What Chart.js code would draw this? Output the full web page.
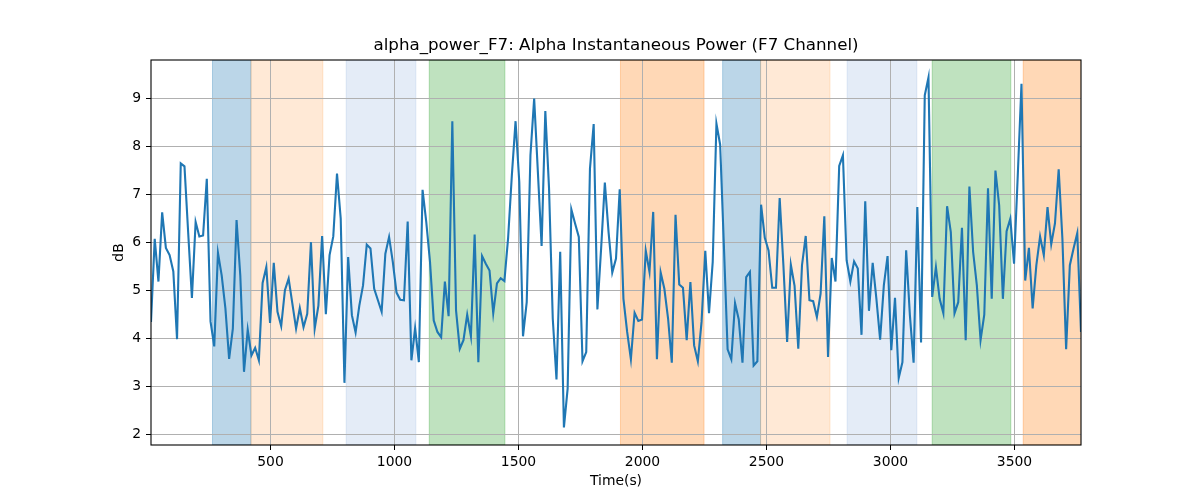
<!DOCTYPE html>
<html>
<head>
<meta charset="utf-8">
<script src="https://cdn.jsdelivr.net/npm/chart.js@4.4.1/dist/chart.umd.min.js"></script>
<style>
  html, body { margin: 0; padding: 0; background: #fff; }
  #wrap { width: 1200px; height: 500px; }
</style>
</head>
<body>
<div id="wrap"><canvas id="powerChart" width="1200" height="500"></canvas></div>
<script>
// Sampling grid (seconds)
const timeStart = 18;
const timeStep = 15;

// Alpha power in dB, one value per sample
const dbValues = [
  4.35, 6.08, 5.19, 6.63, 5.89, 5.74, 5.40, 3.99, 7.65, 7.59, 6.20, 4.85, 6.43, 6.13, 6.15, 7.33, 4.36, 3.84, 5.79, 5.32, 4.63,
  3.58, 4.21, 6.47, 5.32, 3.31, 4.19, 3.65, 3.81, 3.55, 5.16, 5.49, 4.33, 5.58, 4.56, 4.26, 5.01, 5.25, 4.73, 4.21, 4.64, 4.24,
  4.52, 6.01, 4.21, 4.69, 6.14, 4.51, 5.74, 6.13, 7.44, 6.50, 3.08, 5.70, 4.49, 4.13, 4.69, 5.11, 5.96, 5.88, 5.04, 4.80, 4.56,
  5.77, 6.12, 5.60, 4.96, 4.81, 4.80, 6.44, 3.55, 4.22, 3.51, 7.10, 6.43, 5.60, 4.38, 4.14, 4.03, 5.19, 4.47, 8.53, 4.59, 3.79,
  3.97, 4.50, 4.05, 6.17, 3.51, 5.72, 5.56, 5.42, 4.53, 5.15, 5.26, 5.20, 6.10, 7.40, 8.53, 7.26, 4.05, 4.76, 7.82, 9.00, 7.47,
  5.93, 8.74, 7.13, 4.42, 3.15, 5.81, 2.15, 2.96, 6.69, 6.40, 6.12, 3.53, 3.72, 7.54, 8.47, 4.61, 5.88, 7.25, 6.22, 5.38, 5.67,
  7.11, 4.83, 4.14, 3.57, 4.54, 4.37, 4.40, 5.83, 5.39, 6.64, 3.57, 5.38, 5.04, 4.42, 3.50, 6.58, 5.13, 5.06, 3.97, 5.18, 3.86,
  3.53, 4.35, 5.83, 4.53, 5.60, 8.48, 8.04, 5.94, 3.78, 3.57, 4.74, 4.40, 3.50, 5.28, 5.39, 3.44, 3.53, 6.79, 6.10, 5.84,
  5.06, 5.06, 6.93, 5.53, 3.93, 5.54, 5.10, 3.79, 5.53, 6.14, 4.80, 4.78, 4.45, 4.94, 6.55, 3.62, 5.68, 5.19, 7.60, 7.82, 5.63,
  5.19, 5.61, 5.46, 4.08, 6.86, 4.58, 5.58, 4.83, 3.98, 5.11, 5.72, 3.76, 4.85, 3.18, 3.51, 5.84, 4.49, 3.50, 6.74, 3.92, 9.07,
  9.44, 4.87, 5.49, 4.83, 4.53, 6.76, 6.22, 4.53, 4.76, 6.31, 3.97, 7.17, 5.81, 5.11, 3.97, 4.50, 7.13, 4.83, 7.50, 6.78, 4.83,
  6.24, 6.50, 5.56, 7.40, 9.31, 5.21, 5.89, 4.63, 5.53, 6.13, 5.74, 6.74, 5.97, 6.40, 7.53, 6.08, 3.78, 5.53, 5.88, 6.20, 4.14
];

// Shaded task segments (seconds)
const spanStarts = [266, 421, 805, 1140, 1911, 2323, 2476, 2825, 3168, 3535];
const spanEnds   = [421, 711, 1086, 1445, 2248, 2476, 2756, 3106, 3485, 3800];

const xTicks = [500, 1000, 1500, 2000, 2500, 3000, 3500];
const yTicks = [2, 3, 4, 5, 6, 7, 8, 9];

const titleText = 'alpha_power_F7: Alpha Instantaneous Power (F7 Channel)';
const xLabel = 'Time(s)';
const yLabel = 'dB';

// styles
const spanFills = [
  'rgba(31,119,180,0.3)', 'rgba(255,127,14,0.17)', 'rgba(130,170,220,0.22)', 'rgba(44,160,44,0.3)', 'rgba(255,127,14,0.3)',
  'rgba(31,119,180,0.3)', 'rgba(255,127,14,0.17)', 'rgba(130,170,220,0.22)', 'rgba(44,160,44,0.3)', 'rgba(255,127,14,0.3)'
];
const FONT = "'DejaVu Sans', sans-serif";

const points = dbValues.map((v, i) => ({ x: timeStart + i * timeStep, y: v }));
const xMin = points[0].x;
const xMax = points[points.length - 1].x;
const yMin = Math.min(...dbValues);
const yMax = Math.max(...dbValues);
const yPad = (yMax - yMin) * 0.05;

// axvspan-like bands, under the grid
const spansPlugin = {
  id: 'spans',
  beforeDraw(chart) {
    const { ctx, chartArea: a, scales: { x } } = chart;
    ctx.save();
    ctx.beginPath();
    ctx.rect(a.left, a.top, a.right - a.left, a.bottom - a.top);
    ctx.clip();
    spanStarts.forEach((s, i) => {
      const x0 = x.getPixelForValue(s);
      const x1 = x.getPixelForValue(spanEnds[i]);
      ctx.fillStyle = spanFills[i];
      ctx.fillRect(x0, a.top, x1 - x0, a.bottom - a.top);
      ctx.strokeStyle = spanFills[i];
      ctx.lineWidth = 1;
      ctx.strokeRect(x0, a.top, x1 - x0, a.bottom - a.top);
    });
    ctx.restore();
  }
};

// frame + title + axis labels
const framePlugin = {
  id: 'frame',
  afterDraw(chart) {
    const { ctx, chartArea: a } = chart;
    ctx.save();
    ctx.strokeStyle = '#000';
    ctx.lineWidth = 1.1;
    ctx.strokeRect(a.left, a.top, a.right - a.left, a.bottom - a.top);

    ctx.fillStyle = '#000';
    ctx.textAlign = 'center';
    ctx.textBaseline = 'middle';
    const cx = (a.left + a.right) / 2;
    ctx.font = `16.7px ${FONT}`;
    ctx.fillText(titleText, cx, 46);
    ctx.font = `13.9px ${FONT}`;
    ctx.fillText(xLabel, cx, 481);
    ctx.translate(119, (a.top + a.bottom) / 2);
    ctx.rotate(-Math.PI / 2);
    ctx.fillText(yLabel, 0, 0);
    ctx.restore();
  }
};

const ctx = document.getElementById('powerChart').getContext('2d');
new Chart(ctx, {
  type: 'line',
  data: {
    datasets: [{
      label: 'alpha_power_F7',
      data: points,
      borderColor: '#1f77b4',
      borderWidth: 2.1,
      pointRadius: 0,
      tension: 0,
      fill: false
    }]
  },
  options: {
    responsive: false,
    animation: false,
    devicePixelRatio: 1,
    layout: { padding: { left: 0, right: 119, top: 60, bottom: 0 } },
    scales: {
      x: {
        type: 'linear',
        min: xMin,
        max: xMax,
        afterFit: (s) => { s.height = 55; },
        afterBuildTicks: (s) => { s.ticks = xTicks.map(v => ({ value: v })); },
        border: { display: false },
        grid: { color: '#b0b0b0', lineWidth: 1, tickColor: '#000', tickLength: 5 },
        ticks: {
          color: '#000',
          padding: 4,
          maxRotation: 0,
          autoSkip: false,
          font: { family: FONT, size: 13.9 },
          callback: (v) => String(v)
        }
      },
      y: {
        min: yMin - yPad,
        max: yMax + yPad,
        afterFit: (s) => { s.width = 151; },
        afterBuildTicks: (s) => { s.ticks = yTicks.map(v => ({ value: v })); },
        border: { display: false },
        grid: { color: '#b0b0b0', lineWidth: 1, tickColor: '#000', tickLength: 5 },
        ticks: {
          color: '#000',
          padding: 5,
          autoSkip: false,
          font: { family: FONT, size: 13.9 },
          callback: (v) => String(v)
        }
      }
    },
    plugins: {
      legend: { display: false },
      tooltip: { enabled: false },
      title: { display: false }
    }
  },
  plugins: [spansPlugin, framePlugin]
});
</script>
</body>
</html>
